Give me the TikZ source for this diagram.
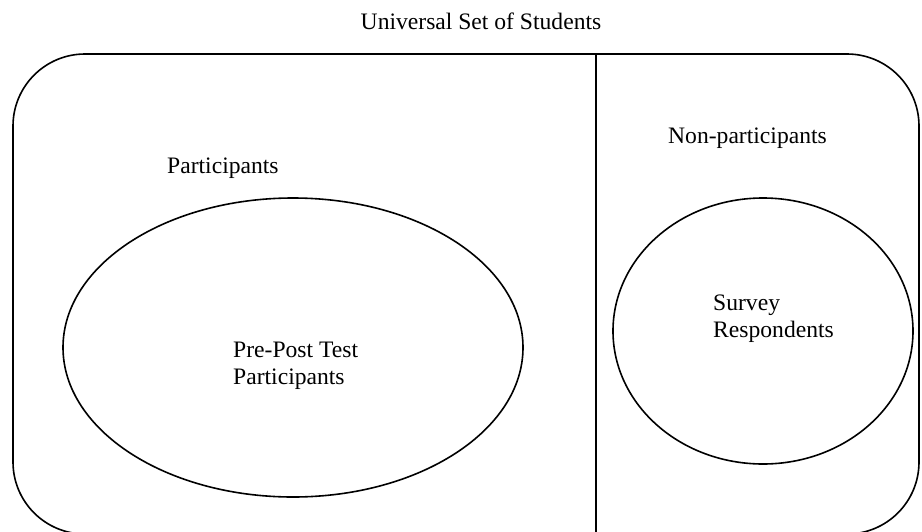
\documentclass[tikz,border=0pt]{standalone}
\usepackage{fontspec}
\setmainfont{Liberation Serif}
\usetikzlibrary{shapes.geometric,positioning}
\tikzset{
  % Outline of a set
  setline/.style={draw=black, line width=1.6pt},
  % Ellipse for a subset
  subset/.style={
    ellipse, setline, inner sep=0pt,
    minimum width=#1
  },
  % Plain text label
  lbl/.style={inner sep=0pt, align=left,
    font=\fontsize{23.6}{27}\selectfont}
}

\begin{document}
\begin{tikzpicture}[x=1pt,y=-1pt]
  \useasboundingbox (0,0) rectangle (922,531);
  \clip (0,0) rectangle (922,531);

  % Universe of students, split into two halves
  \node[setline, rectangle, rounded corners=72pt, inner sep=0pt,
        minimum width=906pt, minimum height=480pt] (universe) at (466,294) {};
  \coordinate (divtop) at (596,54);
  \coordinate (divbot) at (596,534);
  \draw[setline] (divtop) -- (divbot);

  \node[lbl, anchor=base] (title) at (481,29) {Universal Set of Students};

  % Left half (base anchor sits on the last line)
  \node[lbl, anchor=base west] (part) at (167,173) {Participants};
  \node[subset=460pt, minimum height=299pt] (prepost) at (293,347.5) {};
  \node[lbl, anchor=base west] (prepostlbl) at (233,384) {Pre-Post Test\\Participants};

  % Right half
  \node[lbl, anchor=base west] (nonpart) at (668,143) {Non-participants};
  \node[subset=300pt, minimum height=266pt] (survey) at (763,331) {};
  \node[lbl, anchor=base west] (surveylbl) at (713,337) {Survey\\Respondents};

\end{tikzpicture}
\end{document}
